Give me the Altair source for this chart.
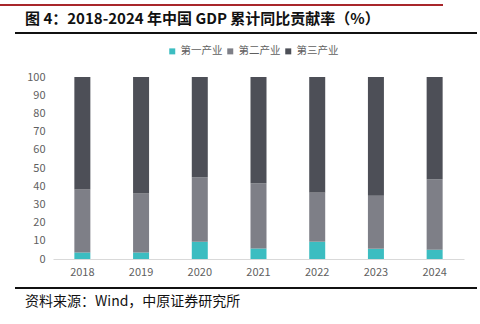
import altair as alt
import pandas as pd

years = ["2018", "2019", "2020", "2021", "2022", "2023", "2024"]
primary = [3.6, 3.6, 9.5, 5.8, 9.5, 5.6, 5.1]
secondary = [34.6, 32.4, 35.4, 35.8, 27.1, 29.2, 38.7]
tertiary = [round(100 - p - s, 1) for p, s in zip(primary, secondary)]
series = ["第一产业", "第二产业", "第三产业"]
colors = ["#3cbdc1", "#7e7f87", "#4d4f57"]

rows = []
for i, y in enumerate(years):
    for k, (name, vals) in enumerate(zip(series, [primary, secondary, tertiary])):
        rows.append({"year": y, "series": name, "value": vals[i], "ord": k})
df = pd.DataFrame(rows)

FONT = "Noto Sans CJK SC"

bars = alt.Chart(df).mark_bar(size=16).encode(
    x=alt.X("year:N", title=None, sort=years,
            scale=alt.Scale(paddingInner=0.73, paddingOuter=0.365),
            axis=alt.Axis(labelAngle=0, labelFontSize=11, labelColor="#5f5f5f",
                          ticks=False, labelPadding=7, domainColor="#d9d9d9",
                          labelFont=FONT)),
    y=alt.Y("value:Q", title=None, stack="zero",
            scale=alt.Scale(domain=[0, 100]),
            axis=alt.Axis(values=list(range(0, 101, 10)), labelFontSize=11,
                          labelColor="#5f5f5f", ticks=False, domain=False,
                          grid=False, labelPadding=8, labelFont=FONT)),
    color=alt.Color("series:N", sort=series,
                    scale=alt.Scale(domain=series, range=colors),
                    legend=alt.Legend(title=None, orient="none", legendX=114, legendY=-31,
                                      direction="horizontal", symbolType="square",
                                      symbolSize=36, symbolStrokeWidth=0,
                                      labelFontSize=10.5, labelColor="#5f5f5f",
                                      labelFont=FONT, columnPadding=2, labelOffset=3)),
    order=alt.Order("ord:Q", sort="ascending"),
)

title_df = pd.DataFrame({"t": ["图 4：2018-2024 年中国 GDP 累计同比贡献率（%）"]})
title = alt.Chart(title_df).mark_text(align="left", baseline="middle", fontSize=15,
                                      fontWeight="bold", font=FONT, color="#111111").encode(
    x=alt.value(-28), y=alt.value(-58), text="t:N")

src_df = pd.DataFrame({"t": ["资料来源：Wind，中原证券研究所"]})
source = alt.Chart(src_df).mark_text(align="left", baseline="middle", fontSize=14,
                                     font=FONT, color="#111111").encode(
    x=alt.value(-28), y=alt.value(225), text="t:N")

one = pd.DataFrame({"a": [0]})
red = alt.Chart(one).mark_rule(color="#a8262b", strokeWidth=2).encode(
    x=alt.value(-53), x2=alt.value(390), y=alt.value(-72))
top_line = alt.Chart(one).mark_rule(color="#111111", strokeWidth=2).encode(
    x=alt.value(-38), x2=alt.value(424), y=alt.value(-44))
bot_line = alt.Chart(one).mark_rule(color="#111111", strokeWidth=2).encode(
    x=alt.value(-38), x2=alt.value(424), y=alt.value(211))

chart = alt.layer(bars, title, source, red, top_line, bot_line).properties(
    width=411, height=182,
    padding={"left": 53, "top": 77, "right": 16, "bottom": 65},
    autosize=alt.AutoSizeParams(type="none"),
).configure_view(stroke=None)

chart.save("out.html", embed_options={"renderer": "svg", "actions": False})
